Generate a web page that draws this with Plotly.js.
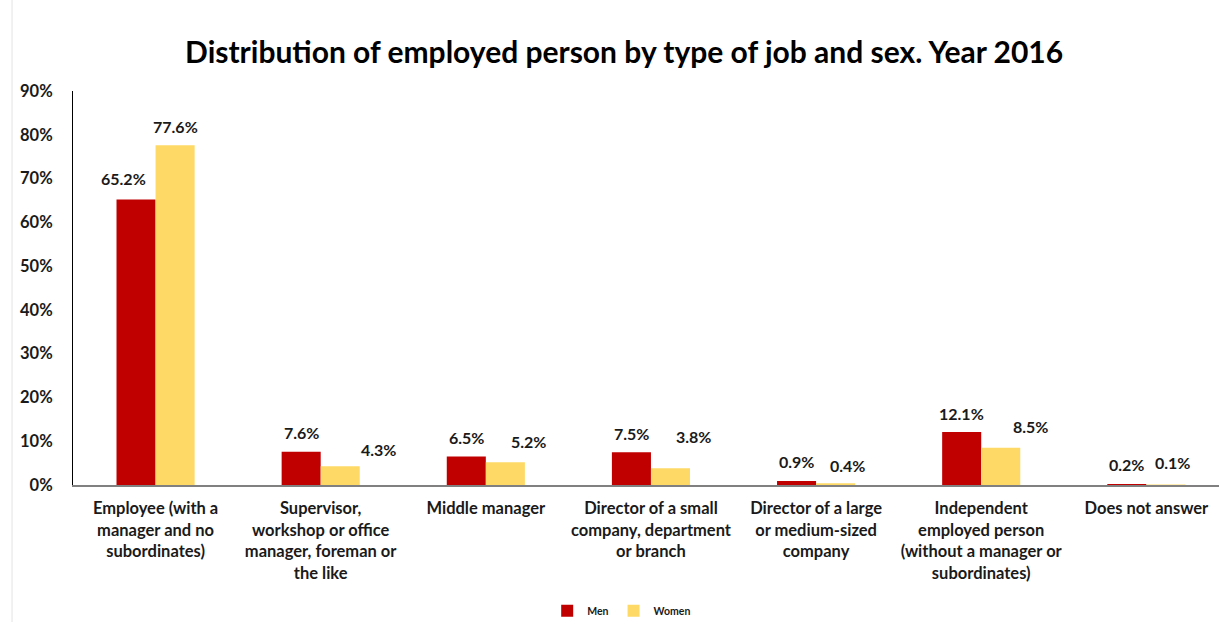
<!DOCTYPE html>
<html>
<head>
<meta charset="utf-8">
<script src="https://cdn.plot.ly/plotly-3.0.1.min.js"></script>
<style>html,body{margin:0;padding:0;background:#fff;}#chart{width:1219px;height:622px;}</style>
</head>
<body>
<div id="chart"></div>
<script>
// ---- data ----
const categories = [
  "Employee (with a<br>manager and no<br>subordinates)",
  "Supervisor,<br>workshop or office<br>manager, foreman or<br>the like",
  "Middle manager",
  "Director of a small<br>company, department<br>or branch",
  "Director of a large<br>or medium-sized<br>company",
  "Independent<br>employed person<br>(without a manager or<br>subordinates)",
  "Does not answer"
];
const men   = [65.2, 7.6, 6.5, 7.5, 0.9, 12.1, 0.2];
const women = [77.6, 4.3, 5.2, 3.8, 0.4, 8.5, 0.1];
const yTicks = [0, 10, 20, 30, 40, 50, 60, 70, 80, 90];

// ---- label placement (style only) ----
const menDx   = [-13, 0, 0, 0, 0, 0, 0];
const womenDx = [0, 38, 23, 23, 12, 30, 7];
const menDy   = [21, 19, 19, 19, 20, 19, 20];
const womenDy = [19, 17, 21, 32, 18, 21, 22];
const halfBar = 19.5;

const font = "Lato, 'Open Sans', sans-serif";
const txt = "#1a1a1a";

const traces = [
  {type: "bar", name: "Men", x: categories, y: men, marker: {color: "#C00000"}, hoverinfo: "y"},
  {type: "bar", name: "Women", x: categories, y: women, marker: {color: "#FFD966"}, hoverinfo: "y"}
];

const annotations = [];
categories.forEach((c, i) => {
  annotations.push({x: c, y: men[i], xref: "x", yref: "y", text: men[i].toFixed(1) + "%",
    showarrow: false, xshift: -halfBar + menDx[i], yshift: menDy[i], yanchor: "middle",
    font: {family: font, size: 16, color: txt, weight: "bold"}});
  annotations.push({x: c, y: women[i], xref: "x", yref: "y", text: women[i].toFixed(1) + "%",
    showarrow: false, xshift: halfBar + womenDx[i], yshift: womenDy[i], yanchor: "middle",
    font: {family: font, size: 16, color: txt, weight: "bold"}});
});

const layout = {
  width: 1219, height: 622,
  margin: {l: 73, r: 0, t: 91, b: 137},
  paper_bgcolor: "#fff", plot_bgcolor: "#fff",
  font: {family: font, color: txt},
  title: {text: "<b>Distribution of employed person by type of job and sex. Year 2016</b>",
    font: {family: font, size: 30, color: "#000"},
    x: 0.512, xanchor: "center", xref: "container", y: 0.916, yanchor: "middle", yref: "container"},
  barmode: "group", bargap: 0.527, bargroupgap: 0,
  xaxis: {type: "category", range: [-0.5, 6.44], showgrid: false, zeroline: false,
    showline: true, linecolor: "#808080", linewidth: 1.5,
    ticks: "outside", ticklen: 8, tickcolor: "rgba(0,0,0,0)",
    tickfont: {family: font, size: 16.5, color: txt, weight: "bold"}, tickangle: 0, fixedrange: true},
  yaxis: {range: [0, 90], tickvals: yTicks, ticktext: yTicks.map(v => v + "%"),
    showgrid: false, zeroline: false, showline: true, linecolor: "#000", linewidth: 1,
    ticks: "outside", ticklen: 16, tickcolor: "rgba(0,0,0,0)",
    tickfont: {family: font, size: 16.5, color: txt, weight: "bold"}, fixedrange: true},
  showlegend: true,
  legend: {orientation: "h", xref: "container", yref: "container", x: 0.51, xanchor: "center",
    y: 0.018, yanchor: "middle", font: {family: font, size: 10.5, color: txt, weight: "bold"},
    itemwidth: 30, traceorder: "normal"},
  annotations: annotations,
  shapes: [{type: "line", xref: "paper", yref: "paper", x0: -0.0532, x1: -0.0532, y0: -0.35, y1: 1.24,
    line: {color: "#e3e3e3", width: 1}}]
};

Plotly.newPlot("chart", traces, layout, {displayModeBar: false, staticPlot: true});
</script>
</body>
</html>
